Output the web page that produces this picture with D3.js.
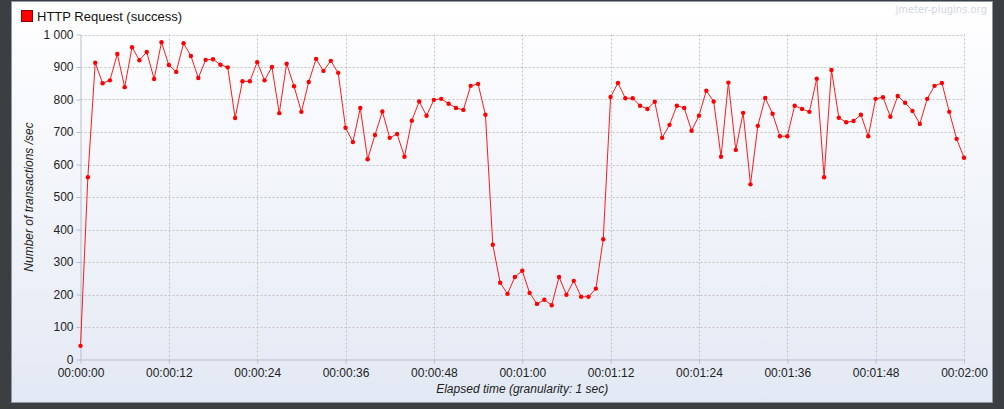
<!DOCTYPE html>
<html><head><meta charset="utf-8">
<script src="https://cdn.jsdelivr.net/npm/d3@7/dist/d3.min.js"></script>
<style>
html,body{margin:0;padding:0;background:#3b3f42;}
svg{display:block;}
</style></head>
<body>
<svg id="chart" width="1004" height="409"></svg>
<script>
const seriesName = "HTTP Request (success)";
const seconds = d3.range(0, 121);
const values = [
 42,561,913,850,859,940,838,961,921,946,
 863,976,906,885,973,934,866,922,924,907,
 899,743,856,856,915,859,900,758,910,841,
 762,854,925,888,919,882,713,669,774,616,
 691,763,682,694,624,735,794,750,799,802,
 787,774,768,842,848,753,353,236,202,254,
 273,205,171,184,167,254,199,242,193,193,
 218,370,808,851,804,804,781,771,793,682,
 722,781,774,704,750,827,794,624,852,645,
 759,539,719,805,756,687,687,781,771,762,
 864,561,891,744,730,734,753,687,802,807,
 747,811,790,765,725,802,842,851,762,679,
 621];
const yTicks = [0,100,200,300,400,500,600,700,800,900,1000];
const xTicks = [0,12,24,36,48,60,72,84,96,108,120];

const svg = d3.select("#chart");
const defs = svg.append("defs");
const grad = defs.append("linearGradient").attr("id","bg").attr("x1",0).attr("y1",0).attr("x2",0).attr("y2",1);
grad.append("stop").attr("offset","0%").attr("stop-color","#ffffff");
grad.append("stop").attr("offset","100%").attr("stop-color","#e3e9f4");

// panel
svg.append("rect").attr("x",11.5).attr("y",1.5).attr("width",981).attr("height",401)
  .attr("fill","url(#bg)").attr("stroke","#8e98a6").attr("stroke-width",1);

const x0 = 80.5, x1 = 964, yTop = 34.5, yBot = 359.5;
const x = d3.scaleLinear().domain([0,120]).range([x0,x1]);
const y = d3.scaleLinear().domain([0,1000]).range([yBot,yTop]);

// grid
const grid = svg.append("g");
grid.selectAll("line.h").data(yTicks.filter(d=>d>0)).join("line")
  .attr("x1",x0).attr("x2",x1).attr("y1",d=>Math.round(y(d))+0.5).attr("y2",d=>Math.round(y(d))+0.5)
  .attr("stroke","#c2c2c2").attr("stroke-dasharray","2,2");
grid.selectAll("line.v").data(xTicks.filter(d=>d>0)).join("line")
  .attr("y1",yTop).attr("y2",yBot).attr("x1",d=>Math.round(x(d))+0.5).attr("x2",d=>Math.round(x(d))+0.5)
  .attr("stroke","#c2c2c2").attr("stroke-dasharray","2,2");

const fmt = s => {
  const h = Math.floor(s/3600), m = Math.floor((s%3600)/60), sec = s%60;
  return [h,m,sec].map(v=>String(v).padStart(2,"0")).join(":");
};
const yfmt = d => d >= 1000 ? d3.format(",")(d).replace(/,/g," ") : String(d);

// axes
const yAxis = svg.append("g").attr("transform",`translate(${x0},0)`)
  .call(d3.axisLeft(y).tickValues(yTicks).tickFormat(yfmt).tickSizeInner(4).tickSizeOuter(0).tickPadding(3));
const xAxis = svg.append("g").attr("transform",`translate(0,${yBot})`)
  .call(d3.axisBottom(x).tickValues(xTicks).tickFormat(fmt).tickSizeInner(4).tickSizeOuter(0).tickPadding(5));
[yAxis,xAxis].forEach(a=>{
  a.select(".domain").attr("stroke","#b7bfcc");
  a.selectAll(".tick line").attr("stroke","#b7bfcc");
  a.selectAll("text").attr("fill","#222").style("font-family","'Liberation Sans', Arial, sans-serif").style("font-size","12px");
});

// line
const line = d3.line().x((d,i)=>x(seconds[i])).y(d=>y(d));
svg.append("path").datum(values).attr("d",line).attr("fill","none").attr("stroke","#ff1a1a").attr("stroke-width",1);
svg.append("g").selectAll("circle").data(values).join("circle")
  .attr("cx",(d,i)=>x(seconds[i])).attr("cy",d=>y(d)).attr("r",2.2).attr("fill","#ff0000");

// titles
svg.append("text").attr("x",(x0+x1)/2).attr("y",393).attr("text-anchor","middle")
  .style("font-family","'Liberation Sans', Arial, sans-serif").style("font-size","12px").style("font-style","italic")
  .attr("fill","#222").text("Elapsed time (granularity: 1 sec)");
svg.append("text").attr("transform",`translate(33,${(yTop+yBot)/2}) rotate(-90)`).attr("text-anchor","middle")
  .style("font-family","'Liberation Sans', Arial, sans-serif").style("font-size","12px").style("font-style","italic")
  .attr("fill","#222").text("Number of transactions /sec");

// legend
svg.append("rect").attr("x",21.5).attr("y",10.5).attr("width",11).attr("height",11)
  .attr("fill","#ff0000").attr("stroke","#8b0000");
svg.append("text").attr("x",37).attr("y",21).style("font-family","'Liberation Sans', Arial, sans-serif")
  .style("font-size","13px").attr("fill","#111").text(seriesName);

// watermark
svg.append("text").attr("x",987).attr("y",13).attr("text-anchor","end")
  .style("font-family","'DejaVu Sans', sans-serif").style("font-size","10px").attr("fill","#d3d7dd").text("jmeter-plugins.org");
</script>
</body></html>
